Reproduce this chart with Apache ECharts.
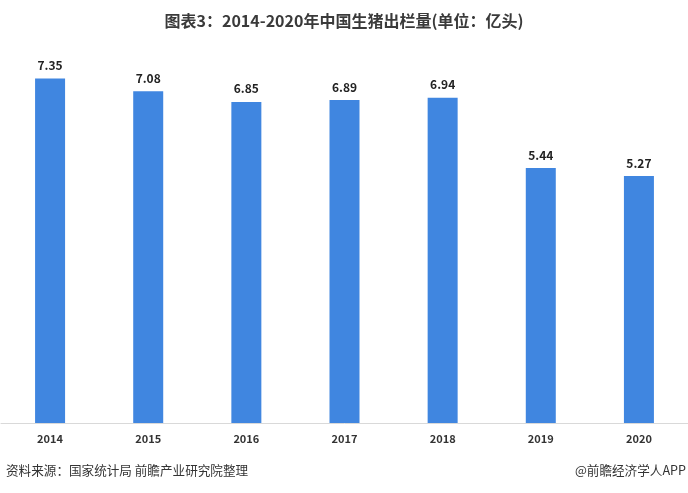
<!DOCTYPE html>
<html><head><meta charset="utf-8">
<script src="https://cdn.jsdelivr.net/npm/echarts@6/dist/echarts.min.js"></script>
<style>html,body{margin:0;padding:0;background:#fff}#c{width:688px;height:493px}</style>
</head><body><div id="c"></div>
<script>
const categories = ['2014','2015','2016','2017','2018','2019','2020'];
const values = [7.35, 7.08, 6.85, 6.89, 6.94, 5.44, 5.27];
const titleText = '图表3：2014-2020年中国生猪出栏量(单位：亿头)';
const sourceText = '资料来源：国家统计局 前瞻产业研究院整理';
const creditText = '@前瞻经济学人APP';

const chart = echarts.init(document.getElementById('c'), null, {renderer:'canvas'});
const font = '"Microsoft YaHei","Noto Sans CJK SC",sans-serif';
chart.setOption({
  animation:false,
  backgroundColor:'#fff',
  title:{text:titleText,left:'center',top:8,textStyle:{fontSize:16,fontWeight:'bold',color:'#3a3a3a',fontFamily:font}},
  grid:{left:1,width:689,top:48,bottom:70,containLabel:false},
  xAxis:{type:'category',data:categories,
    axisLine:{lineStyle:{color:'#d9d9d9',width:1}},axisTick:{show:false},
    axisLabel:{color:'#333',fontSize:11,fontWeight:'bold',margin:10,fontFamily:font}},
  yAxis:{type:'value',min:0,max:8,show:false,splitLine:{show:false}},
  series:[{type:'bar',data:values,barWidth:30,itemStyle:{color:'#4086e0'},
    label:{show:true,position:'top',distance:7,color:'#222',fontSize:12,fontWeight:'bold',fontFamily:font,formatter:p=>p.value.toFixed(2)}}],
  graphic:[
    {type:'text',left:6,top:464,style:{text:sourceText,fill:'#333',font:'12.6px '+font}},
    {type:'text',right:2,top:464,style:{text:creditText,fill:'#333',font:'12.6px '+font}}
  ]
});
</script></body></html>
